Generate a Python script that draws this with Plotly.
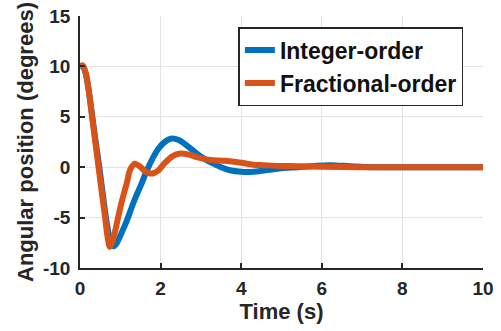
import plotly.graph_objects as go

# Integer-order response
t_int = [0, 0.07, 0.14, 0.21, 0.30, 0.38, 0.48, 0.56, 0.64, 0.72, 0.78, 0.83, 0.9, 1.0, 1.1, 1.2, 1.3, 1.4,
         1.53, 1.65, 1.82, 1.94, 2.1, 2.27, 2.45, 2.7, 2.9, 3.1, 3.31, 3.5, 3.72, 4.0, 4.3, 4.6, 5.0, 5.4,
         5.8, 6.2, 6.7, 7.2, 8, 9, 10]
y_int = [10.0, 10.0, 9.3, 7.8, 5.2, 2.8, 0.0, -2.5, -4.9, -6.8, -7.6, -7.85, -7.6, -6.8, -5.9, -4.9, -3.8, -2.8,
         -1.6, -0.4, 1.0, 1.8, 2.5, 2.85, 2.7, 2.0, 1.35, 0.8, 0.35, 0.0, -0.3, -0.45, -0.45, -0.3, -0.1, 0.0,
         0.12, 0.2, 0.1, 0.0, 0, 0, 0]

# Fractional-order response
t_frac = [0, 0.07, 0.14, 0.21, 0.30, 0.38, 0.46, 0.54, 0.62, 0.68, 0.74, 0.8, 0.88, 0.95, 1.05, 1.16, 1.24, 1.36,
          1.48, 1.6, 1.72, 1.82, 1.95, 2.1, 2.3, 2.48, 2.7, 2.9, 3.1, 3.31, 3.5, 3.72, 4.0, 4.3, 4.55, 5.0, 5.4,
          6, 7, 8, 9, 10]
y_frac = [10.0, 10.1, 9.4, 7.8, 5.0, 2.5, 0.0, -2.5, -4.9, -6.8, -7.9, -7.4, -6.2, -4.9, -3.2, -1.6, -0.3, 0.35,
          0.1, -0.35, -0.6, -0.6, -0.3, 0.4, 1.1, 1.35, 1.25, 1.0, 0.8, 0.7, 0.65, 0.6, 0.45, 0.25, 0.2, 0.12, 0.1,
          0.05, 0, 0, 0, 0]

x_ticks = [0, 2, 4, 6, 8, 10]
y_ticks = [-10, -5, 0, 5, 10, 15]

FONT = "Liberation Sans"

fig = go.Figure()
fig.add_trace(go.Scatter(x=t_int, y=y_int, mode="lines", name="Integer-order",
                         line=dict(color="#0072BD", width=6, shape="spline", smoothing=0.8)))
fig.add_trace(go.Scatter(x=t_frac, y=y_frac, mode="lines", name="Fractional-order",
                         line=dict(color="#D95319", width=6, shape="spline", smoothing=0.8)))

axis_common = dict(
    showline=True, linecolor="#262626", linewidth=1.5, mirror=False,
    ticks="inside", ticklen=5, tickwidth=1.5, tickcolor="#262626",
    showgrid=True, gridcolor="#e3e3e3", gridwidth=1, zeroline=False,
    tickfont=dict(family=FONT, size=19, color="#262626", weight="bold"),
)

fig.update_xaxes(range=[0, 10], tickvals=x_ticks, ticktext=[str(v) for v in x_ticks],
                 title=dict(text="Time (s)", font=dict(family=FONT, size=22, color="#262626", weight="bold"),
                            standoff=3),
                 ticklabelstandoff=2,
                 **axis_common)
fig.update_yaxes(range=[-10, 15], tickvals=y_ticks, ticktext=[str(v) for v in y_ticks],
                 title=dict(text="Angular position (degrees)",
                            font=dict(family=FONT, size=22, color="#262626", weight="bold"), standoff=3),
                 ticklabelstandoff=4,
                 **axis_common)

fig.update_layout(
    width=501, height=331,
    margin=dict(l=80, r=18, t=16, b=63, autoexpand=False),
    paper_bgcolor="white", plot_bgcolor="white",
    showlegend=True,
    legend=dict(x=0.393, y=0.956, xanchor="left", yanchor="top",
                bgcolor="white", bordercolor="#262626", borderwidth=1.5,
                font=dict(family=FONT, size=23, color="#111111", weight="bold"),
                tracegroupgap=0, itemwidth=30),
)

fig.write_html("out.html")
